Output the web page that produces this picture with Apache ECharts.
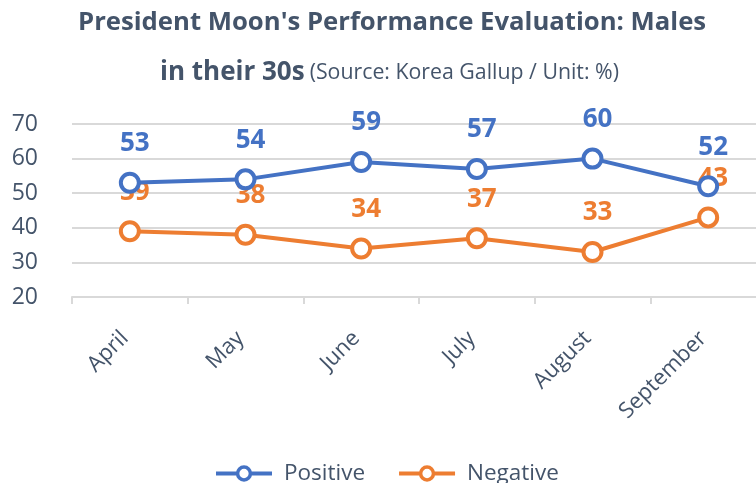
<!DOCTYPE html>
<html><head><meta charset="utf-8">
<script src="https://cdn.jsdelivr.net/npm/echarts@6/dist/echarts.min.js"></script>
<style>html,body{margin:0;padding:0;background:#fff}#c{width:756px;height:483px}</style>
</head><body><div id="c"></div>
<script>
const categories = ['April', 'May', 'June', 'July', 'August', 'September'];
const positive = [53, 54, 59, 57, 60, 52];
const negative = [39, 38, 34, 37, 33, 43];
const seriesNames = ['Positive', 'Negative'];
const titleLine1 = "President Moon's Performance Evaluation: Males";
const titleLine2a = 'in their 30s';
const titleLine2b = '(Source: Korea Gallup / Unit: %)';

const txt = '#44546A';
const blue = '#4472C4', orange = '#ED7D31';
const font = 'Open Sans';
const chart = echarts.init(document.getElementById('c'), null, {renderer: 'canvas'});
function mk(name, data, color) {
  return {
    name, type: 'line', data,
    symbol: 'circle', symbolSize: 18,
    lineStyle: {color, width: 4},
    itemStyle: {color: '#fff', borderColor: color, borderWidth: 4},
    label: {show: true, position: 'top', distance: 15, offset: [5, 0], color, fontFamily: font, fontWeight: 'bold', fontSize: 26},
    emphasis: {disabled: true},
    z: name === 'Positive' ? 3 : 2
  };
}
chart.setOption({
  animation: false,
  backgroundColor: '#fff',
  title: [{
    left: 78, top: 10, padding: 0,
    text: titleLine1,
    textStyle: {fontFamily: font, fontWeight: 'bold', fontSize: 25.7, color: txt}
  }, {
    left: 160, top: 55, padding: 0,
    text: '{b|' + titleLine2a + '} {s|' + titleLine2b + '}',
    textStyle: {
      fontWeight: 'normal',
      rich: {
        b: {fontFamily: font, fontWeight: 'bold', fontSize: 26, color: txt, lineHeight: 36},
        s: {fontFamily: font, fontWeight: 'normal', fontSize: 21.3, color: txt, lineHeight: 36}
      }
    }
  }],
  legend: {
    bottom: -2, left: 214, padding: 0,
    itemWidth: 56, itemHeight: 16, itemGap: 32,
    data: seriesNames,
    lineStyle: {width: 4},
    itemStyle: {borderWidth: 3.5},
    textStyle: {color: txt, fontFamily: font, fontSize: 22.5, padding: [0, 0, 0, 7]}
  },
  grid: {left: 72, top: 124, width: 694, height: 173, containLabel: false, outerBoundsMode: 'none'},
  xAxis: {
    type: 'category', data: categories, boundaryGap: true,
    axisLine: {lineStyle: {color: '#D9D9D9', width: 2}},
    axisTick: {show: true, length: 7, lineStyle: {color: '#D9D9D9', width: 2}},
    axisLabel: {rotate: 45, margin: 33, padding: [0, 7, 0, 0], color: txt, fontFamily: font, fontSize: 22}
  },
  yAxis: {
    type: 'value', min: 20, max: 70, interval: 10,
    axisLine: {show: false}, axisTick: {show: false},
    splitLine: {lineStyle: {color: '#D9D9D9', width: 2}},
    axisLabel: {margin: 34, color: txt, fontFamily: font, fontSize: 23}
  },
  series: [mk('Positive', positive, blue), mk('Negative', negative, orange)]
});
</script></body></html>
